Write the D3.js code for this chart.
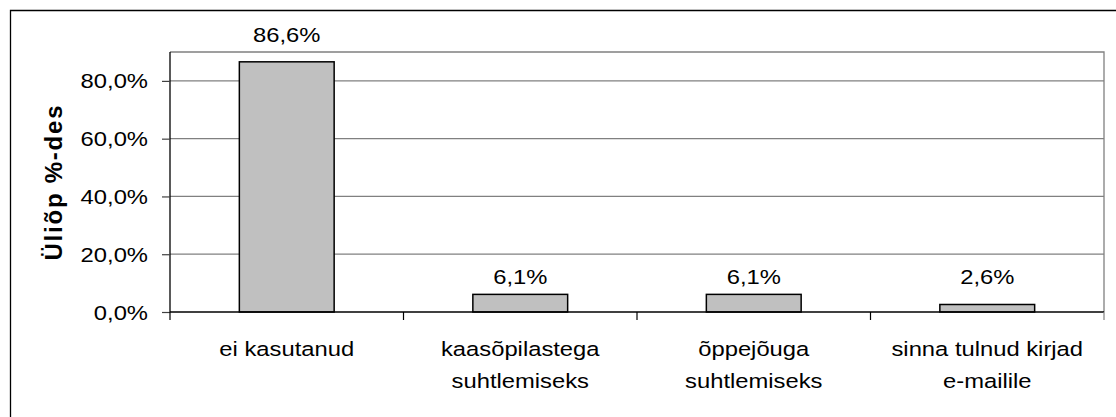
<!DOCTYPE html>
<html>
<head>
<meta charset="utf-8">
<script src="https://cdn.jsdelivr.net/npm/d3@7"></script>
<style>
  html, body { margin: 0; padding: 0; background: #fff; }
  svg { display: block; }
  text { font-family: Arial, "Liberation Sans", sans-serif; fill: #000; }
</style>
</head>
<body>
<svg id="chart" width="1116" height="417"></svg>
<script>
const categories = ["ei kasutanud", "kaasõpilastega suhtlemiseks", "õppejõuga suhtlemiseks", "sinna tulnud kirjad e-mailile"];
const categoryLines = [["ei kasutanud"], ["kaasõpilastega", "suhtlemiseks"], ["õppejõuga", "suhtlemiseks"], ["sinna tulnud kirjad", "e-mailile"]];
const values = [86.6, 6.1, 6.1, 2.6];
const valueLabels = ["86,6%", "6,1%", "6,1%", "2,6%"];
const yTicks = [0, 20, 40, 60, 80];
const yTickLabels = ["0,0%", "20,0%", "40,0%", "60,0%", "80,0%"];
const yTitle = "Üliõp %-des";

(function () {
const svg = d3.select("#chart");
const FS = 20.5, SX = 1.16;

const pL = 170, pR = 1104, pT = 52, pB = 312;
const y = d3.scaleLinear().domain([0, 90]).range([pB, pT]);
const x = d3.scaleBand().domain(categories).range([pL, pR]).paddingInner(0.594).paddingOuter(0.297);

function label(g, str, px, py, anchor, weight) {
  return g.append("text")
    .attr("transform", `translate(${px},${py}) scale(${SX},1)`)
    .attr("text-anchor", anchor)
    .attr("font-size", FS)
    .attr("font-weight", weight || "normal")
    .text(str);
}

// outer frame (left and top visible)
svg.append("path").attr("d", "M10.5,417 V10.5 H1116")
  .attr("fill", "none").attr("stroke", "#000").attr("stroke-width", 1.3);

// gridlines
svg.append("g").selectAll("line").data(yTicks.filter(d => d > 0)).join("line")
  .attr("x1", pL).attr("x2", pR)
  .attr("y1", d => y(d)).attr("y2", d => y(d))
  .attr("stroke", "#808080").attr("stroke-width", 1.3);

// plot area border (top, right)
svg.append("path").attr("d", `M${pL},${pT} H${pR} V${pB}`)
  .attr("fill", "none").attr("stroke", "#808080").attr("stroke-width", 1.3);

// bars
svg.append("g").selectAll("rect").data(values).join("rect")
  .attr("x", (d, i) => x(categories[i]))
  .attr("width", x.bandwidth())
  .attr("y", d => y(d))
  .attr("height", d => y(0) - y(d))
  .attr("fill", "#C0C0C0").attr("stroke", "#000").attr("stroke-width", 1.5);

// y axis
const yAxis = d3.axisLeft(y).tickValues(yTicks).tickSize(8).tickFormat((d, i) => yTickLabels[i]);
const yg = svg.append("g").attr("transform", `translate(${pL},0)`).call(yAxis);
yg.select(".domain").attr("stroke", "#000").attr("stroke-width", 1.3).attr("d", `M0,${pT}V${pB}`);
yg.selectAll(".tick line").attr("stroke", "#404040").attr("stroke-width", 1.2);
yg.selectAll(".tick text").remove();
yTicks.forEach((t, i) => {
  label(svg, yTickLabels[i], 148, y(t) + 7.5, "end");
});

// x axis line + category separator ticks
svg.append("line").attr("x1", pL).attr("x2", pR).attr("y1", pB).attr("y2", pB)
  .attr("stroke", "#000").attr("stroke-width", 1.5);
const seps = d3.range(categories.length + 1).map(i => pL + i * (pR - pL) / categories.length);
svg.append("g").selectAll("line").data(seps).join("line")
  .attr("x1", d => d).attr("x2", d => d).attr("y1", pB).attr("y2", pB + 8)
  .attr("stroke", (d, i) => i === categories.length ? "#808080" : "#000").attr("stroke-width", 1.2);

// category labels
categoryLines.forEach((lines, i) => {
  const cx = x(categories[i]) + x.bandwidth() / 2;
  lines.forEach((ln, j) => label(svg, ln, cx, 356 + j * 31.5, "middle"));
});

// value labels
values.forEach((v, i) => {
  const cx = x(categories[i]) + x.bandwidth() / 2;
  const ly = v > 10 ? y(v) - 20 : y(0) - 28;
  label(svg, valueLabels[i], cx, ly, "middle");
});

// y axis title (rotated)
svg.append("text")
  .attr("transform", `translate(62,${(pT + pB) / 2 + 1}) rotate(-90)`)
  .attr("text-anchor", "middle")
  .attr("font-size", 24)
  .attr("font-weight", "bold")
  .attr("textLength", 155)
  .attr("lengthAdjust", "spacing")
  .text(yTitle);
})();
</script>
</body>
</html>
